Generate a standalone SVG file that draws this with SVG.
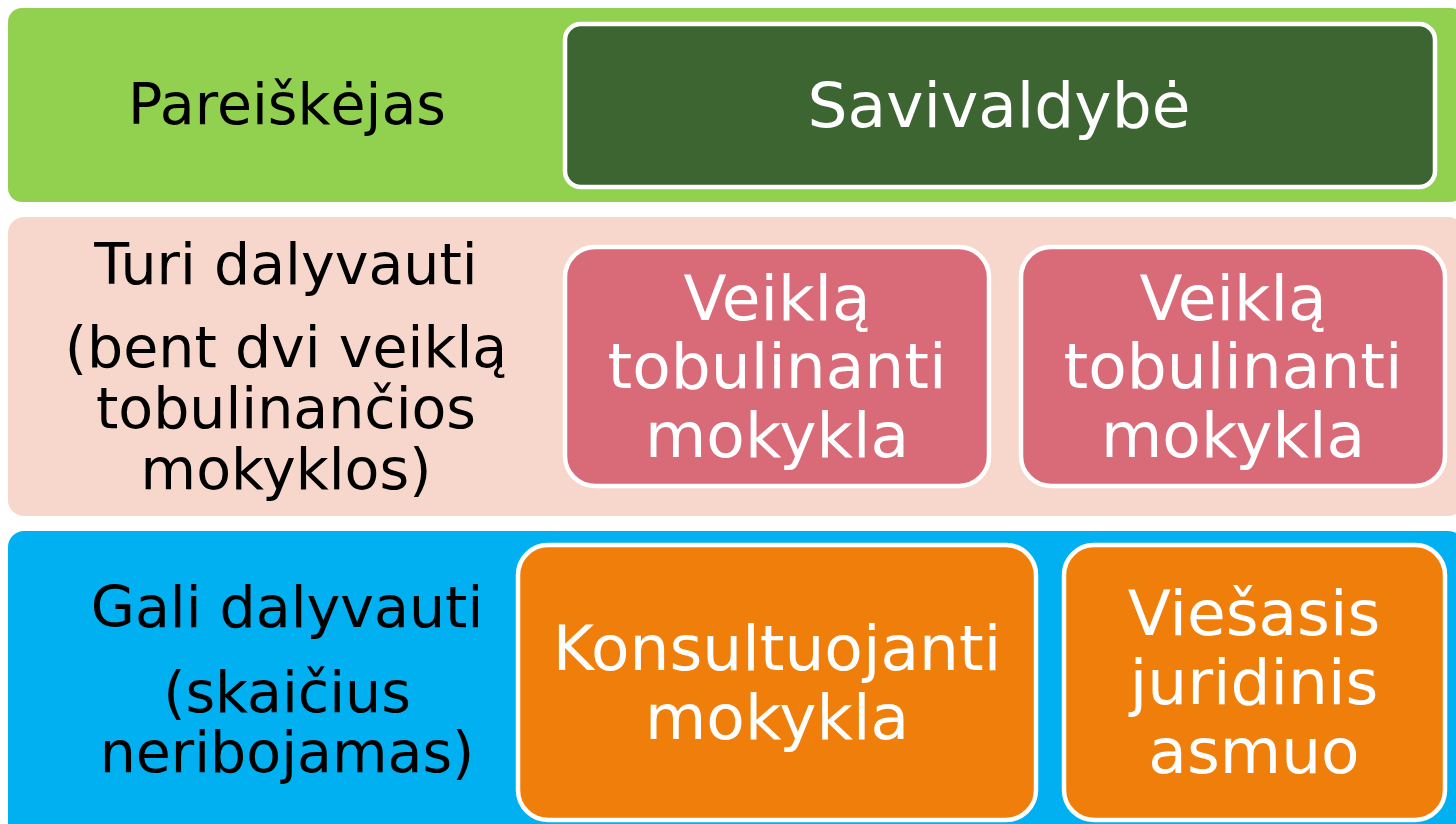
<svg xmlns="http://www.w3.org/2000/svg" width="1456" height="824" viewBox="0 0 1456 824">
<style>
.band{stroke:none}
.box{stroke:#FFFFFF;stroke-width:4.5}
.lt{font-family:"DejaVu Sans","Verdana",sans-serif;font-size:57px;fill:#000000;text-anchor:middle}
.wt{font-family:"DejaVu Sans","Verdana",sans-serif;font-size:63px;fill:#FFFFFF;text-anchor:middle}
</style>
<rect width="1456" height="824" fill="#FFFFFF"/>
<g id="band-pareiskejas">
<rect class="band" x="8" y="8" width="1456" height="194" rx="14" fill="#92D050"/>
<text class="lt" x="287" y="124">Pareiškėjas</text>
</g>
<g id="band-turi">
<rect class="band" x="8" y="217" width="1456" height="299" rx="16" fill="#F7D7CB"/>
<text class="lt" x="286" y="284">Turi dalyvauti</text>
<text class="lt" x="286" y="367">(bent dvi veiklą</text>
<text class="lt" x="286" y="428">tobulinančios</text>
<text class="lt" x="286" y="489">mokyklos)</text>
</g>
<g id="band-gali">
<rect class="band" x="8" y="531" width="1456" height="310" rx="16" fill="#00B0F0"/>
<text class="lt" x="287" y="627">Gali dalyvauti</text>
<text class="lt" x="287" y="712">(skaičius</text>
<text class="lt" x="287" y="772">neribojamas)</text>
</g>
<g id="node-savivaldybe">
<rect class="box" x="565" y="24" width="870" height="163" rx="16" fill="#3D6531"/>
<text class="wt" x="999" y="127">Savivaldybė</text>
</g>
<g id="node-veikla1">
<rect class="box" x="565" y="247" width="424" height="239" rx="30" fill="#D96A77"/>
<text class="wt" x="777" y="320">Veiklą</text>
<text class="wt" x="777" y="388">tobulinanti</text>
<text class="wt" x="777" y="457">mokykla</text>
</g>
<g id="node-veikla2">
<rect class="box" x="1021" y="247" width="424" height="239" rx="30" fill="#D96A77"/>
<text class="wt" x="1233" y="320">Veiklą</text>
<text class="wt" x="1233" y="388">tobulinanti</text>
<text class="wt" x="1233" y="457">mokykla</text>
</g>
<g id="node-konsultuojanti">
<rect class="box" x="518" y="545" width="518" height="275" rx="30" fill="#EF7F0A"/>
<text class="wt" x="777" y="670">Konsultuojanti</text>
<text class="wt" x="777" y="739">mokykla</text>
</g>
<g id="node-viesasis">
<rect class="box" x="1064" y="545" width="381" height="275" rx="30" fill="#EF7F0A"/>
<text class="wt" x="1254" y="635">Viešasis</text>
<text class="wt" x="1254" y="704">juridinis</text>
<text class="wt" x="1254" y="773">asmuo</text>
</g>
<g id="connectors"></g>
</svg>
